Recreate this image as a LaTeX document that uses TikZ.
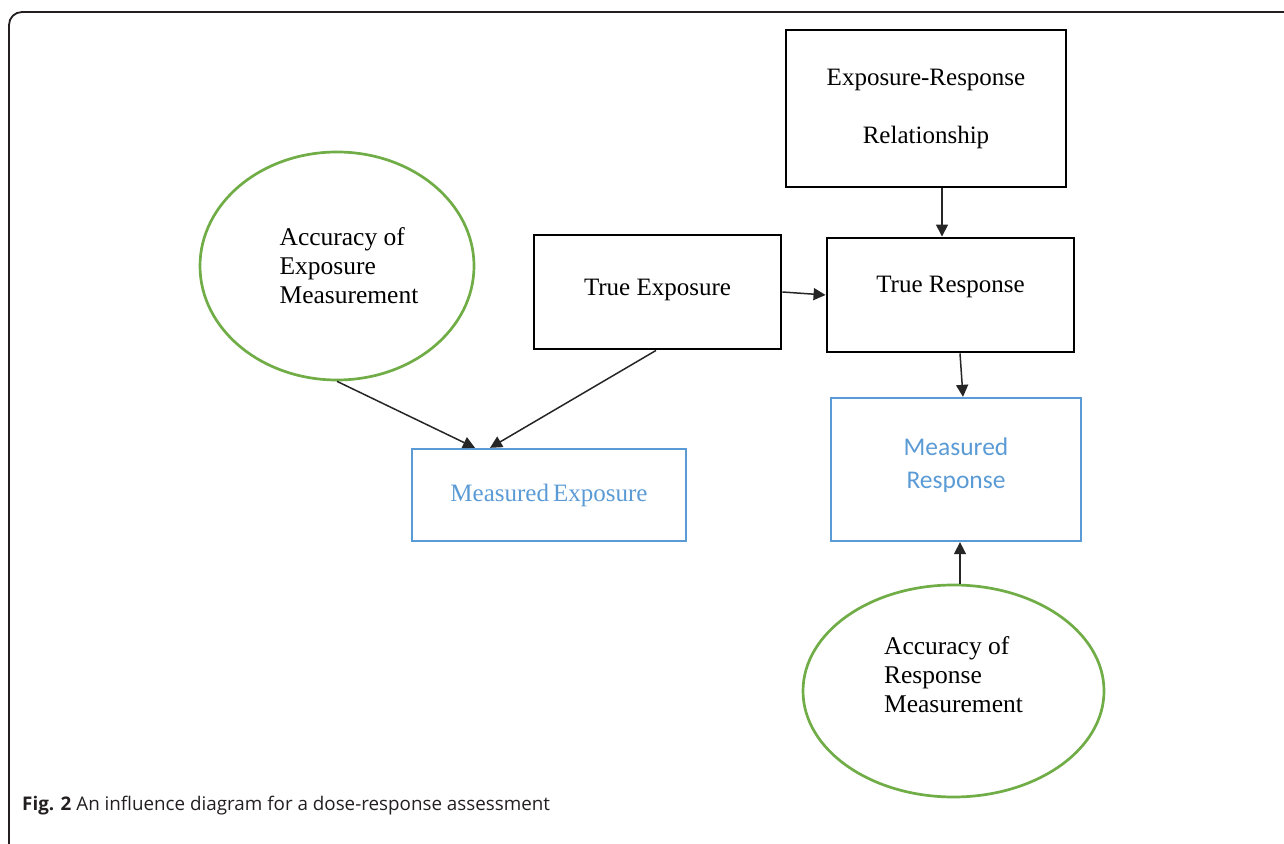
\documentclass[tikz,border=0pt]{standalone}
\usepackage{fontspec}
\setmainfont{Liberation Serif}
\newfontfamily\calibrifont{Carlito}
\newfontfamily\captionfont{Open Sans}
\usetikzlibrary{arrows.meta,shapes.geometric,positioning}
\definecolor{wordblue}{RGB}{91,155,213}
\definecolor{wordgreen}{RGB}{112,173,71}
\definecolor{captiongray}{RGB}{35,31,32}
\tikzset{/infl/box/.style={rectangle, draw=black, line width=2.9pt, align=center, inner sep=0pt, font=\fontsize{25}{29}\selectfont
}}
\tikzset{/infl/measured/.style={rectangle, draw=wordblue, line width=2.3pt, text=wordblue, align=center, inner sep=0pt, font=\fontsize{25}{29}\selectfont
}}
\tikzset{/infl/chance/.style={ellipse, draw=wordgreen, line width=2.7pt, align=left, inner sep=0pt, font=\fontsize{25.5}{29}\selectfont
}}
\tikzset{/infl/link/.style={-{Triangle[length=12pt,width=12pt]}, line width=1.5pt, draw=black!85
}}

\begin{document}
\begin{tikzpicture}[x=1pt,y=1pt]
		\useasboundingbox (0,0) rectangle (1284,843);
		\draw[line width=1.8pt, rounded corners=13pt, captiongray] (9,-20) -- (9,831) -- (1300,831);
		% decision / chance nodes
		\node[/infl/box, minimum width=280, minimum height=157] (err) at (926,734.5) {Exposure-Response\\[29pt]Relationship};
		\node[/infl/box, minimum width=247, minimum height=114, text depth=10pt] (te) at (657.5,551) {True Exposure};
		\node[/infl/box, minimum width=247, minimum height=114, text depth=22pt] (tr) at (950.5,548) {True Response};
		\node[/infl/chance, minimum width=274, minimum height=228] (acc1) at (337,577) {\hspace*{24pt}Accuracy of\\\hspace*{24pt}Exposure\\\hspace*{24pt}Measurement};
		\node[/infl/chance, minimum width=301, minimum height=212, text depth=32pt] (acc2) at (953.5,152) {Accuracy of\\Response\\Measurement};
		\node[/infl/measured, minimum width=274, minimum height=92] (me) at (549,348) {Measured\,Exposure};
		\node[/infl/measured, minimum width=250, minimum height=143, text depth=12pt, font=\calibrifont\fontsize{25.5}{33}\selectfont] (mr) at (956,373.5) {Measured\\Response};
		% influences
		\draw[/infl/link] ([xshift=16pt]err.south) -- ([xshift=-8.5pt]tr.north);
		\draw[/infl/link] (te.east) -- (tr.west);
		\draw[/infl/link] ([xshift=-1.5pt]te.south) -- ([xshift=-59pt]me.north);
		\draw[/infl/link] (acc1.south) -- ([xshift=-74pt]me.north);
		\draw[/infl/link] ([xshift=9.5pt]tr.south) -- ([xshift=7pt]mr.north);
		\draw[/infl/link] ([xshift=6.5pt]acc2.north) -- ([xshift=4pt]mr.south);
		% caption
		\node[anchor=west, inner sep=0pt, text=captiongray, font=\captionfont\fontsize{18.8}{22}\selectfont] (caption) at (22,37) {\textbf{Fig. 2} An influence diagram for a dose-response assessment};
	\end{tikzpicture}
\end{document}
